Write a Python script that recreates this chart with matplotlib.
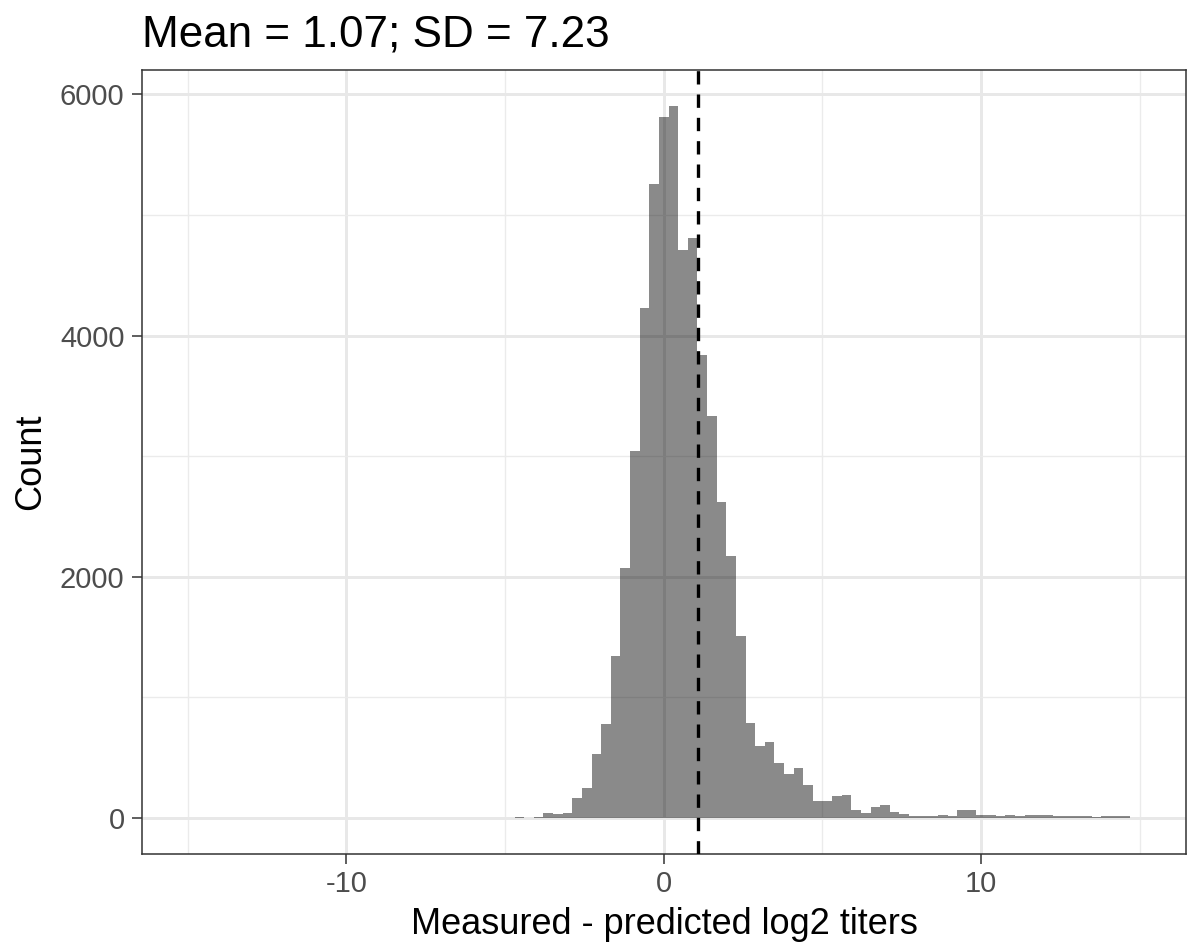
import numpy as np
import matplotlib
matplotlib.use('Agg')
import matplotlib.pyplot as plt
from matplotlib.ticker import MultipleLocator

plt.rcParams['font.family'] = ['Liberation Sans', 'DejaVu Sans']
plt.rcParams['axes.unicode_minus'] = False

# histogram bins: 100 bins over [-15, 15] -> width 30/99, centred on multiples of the width
bin_width = 30 / 99
bin_index = np.arange(-15, 49)
counts = [
    4, 3, 4, 41, 34, 41, 168, 248, 530, 783,
    1341, 2076, 3040, 4233, 5261, 5811, 5908, 4711, 4807, 3843,
    3335, 2621, 2169, 1512, 791, 597, 628, 455, 368, 410,
    276, 142, 142, 182, 194, 62, 41, 94, 108, 48,
    30, 20, 20, 12, 22, 15, 69, 69, 25, 25,
    14, 28, 14, 25, 25, 25, 17, 17, 17, 17,
    8, 17, 17, 15,
]
mean_val = 1.07
sd_val = 7.23

x_ticks = [-10, 0, 10]
y_ticks = [0, 2000, 4000, 6000]

W, H = 1187, 944
fig = plt.figure(figsize=(W / 100, H / 100), dpi=100, facecolor='white')
ax = fig.add_axes([141.5 / W, 1 - 853.5 / H, (1186 - 141.5) / W, (853.5 - 70) / H])

centers = bin_index * bin_width
ax.bar(centers, counts, width=bin_width, align='center', color='black',
       alpha=0.46, linewidth=0, zorder=2)

# mean line
ax.axvline(mean_val, color='black', linewidth=2.4, linestyle=(0, (4, 3)), zorder=3)

ax.set_xlim(-16.45, 16.45)
ax.set_ylim(-295, 6203)

ax.set_xticks(x_ticks)
ax.set_yticks(y_ticks)
ax.xaxis.set_minor_locator(MultipleLocator(5))
ax.yaxis.set_minor_locator(MultipleLocator(1000))

ax.set_axisbelow(True)
ax.grid(which='major', color='#E8E8E8', linewidth=2.1)
ax.grid(which='minor', color='#EBEBEB', linewidth=1.0)

ax.tick_params(which='major', length=7.2, width=1.1, color='#333333',
               labelcolor='#4D4D4D', labelsize=21)
ax.tick_params(axis='x', which='major', pad=5)
ax.tick_params(axis='y', which='major', pad=5)
ax.tick_params(which='minor', length=0)

for s in ax.spines.values():
    s.set_color('#333333')
    s.set_linewidth(1.1)

fig.text(141.5 / W, 1 - 46 / H, f'Mean = {mean_val:.2f}; SD = {sd_val:.2f}',
         fontsize=31.7, ha='left', va='baseline', color='black')
fig.text(664 / W, 1 - 934 / H, 'Measured - predicted log2 titers',
         fontsize=26, ha='center', va='baseline', color='black')
fig.text(31 / W, 1 - 461.5 / H, 'Count', fontsize=26, rotation=90,
         ha='center', va='center', color='black')

fig.savefig('out.png', dpi=100, facecolor='white')
